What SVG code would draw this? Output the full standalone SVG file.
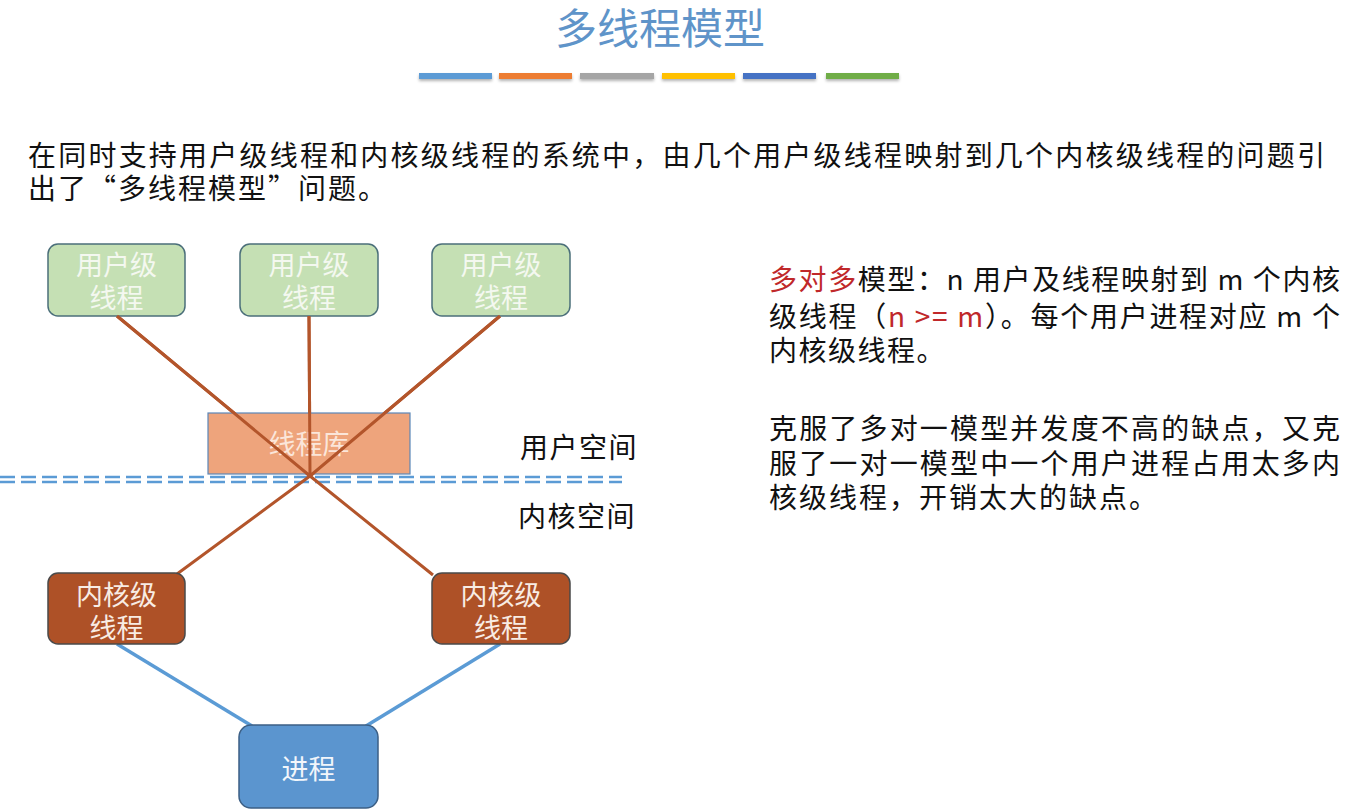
<svg xmlns="http://www.w3.org/2000/svg" width="1367" height="812" viewBox="0 0 1367 812">
<defs>
<style>
.t{font-family:"Noto Sans CJK SC","Liberation Sans",sans-serif;}
.body{font-size:28px;fill:#111;}
.red{fill:#c0282a;}
.lbl{font-size:27px;text-anchor:middle;}
.user rect{fill:#c5e0b4;stroke:#4b6f7a;stroke-width:1.5;}
.user text{fill:#f4f8f0;}
.kern rect{fill:#ae5127;stroke:#4a4a4a;stroke-width:1.5;}
.kern text{fill:#f8ece4;}
.brown{stroke:#b3552b;stroke-width:3;fill:none;}
.blue{stroke:#5b9bd5;stroke-width:3.5;fill:none;}
.dash{stroke:#5b9bd5;stroke-width:2.5;stroke-dasharray:15 6;fill:none;}
</style>
<filter id="sh" x="-10%" y="-50%" width="120%" height="300%"><feDropShadow dx="0" dy="2" stdDeviation="1.5" flood-color="#000" flood-opacity="0.3"/></filter>
</defs>
<rect width="1367" height="812" fill="#fff"/>

<!-- title -->
<g id="title">
<text class="t" x="660" y="44" font-size="42" text-anchor="middle" fill="#5f94c9">多线程模型</text>
<g filter="url(#sh)">
<rect x="419" y="73" width="73" height="6" fill="#5b9bd5"/>
<rect x="499" y="73" width="73" height="6" fill="#ed7d31"/>
<rect x="580" y="73" width="74" height="6" fill="#a5a5a5"/>
<rect x="662" y="73" width="73" height="6" fill="#ffc000"/>
<rect x="743" y="73" width="73" height="6" fill="#4472c4"/>
<rect x="826" y="73" width="73" height="6" fill="#70ad47"/>
</g>
</g>

<!-- intro -->
<g id="intro" class="t body">
<text x="28" y="166" textLength="1297" lengthAdjust="spacing">在同时支持用户级线程和内核级线程的系统中，由几个用户级线程映射到几个内核级线程的问题引</text>
<text x="28" y="199" letter-spacing="2">出了“多线程模型”问题。</text>
</g>

<!-- connectors -->
<g id="connectors">
<line class="dash" x1="0" y1="477" x2="622" y2="477"/>
<line class="dash" x1="0" y1="482" x2="622" y2="482"/>
<path class="brown" d="M117 316 L310 476 L433 575"/>
<path class="brown" d="M500 316 L310 476 L177 574"/>
<path class="brown" d="M309 316 L310 476"/>
<path class="blue" d="M117 644 L252 726"/>
<path class="blue" d="M500 644 L366 726"/>
</g>

<!-- user threads -->
<g id="user1" class="user t">
<rect x="48" y="244" width="137" height="72" rx="10"/>
<text class="lbl" x="116.5" y="275">用户级</text>
<text class="lbl" x="116.5" y="308">线程</text>
</g>
<g id="user2" class="user t">
<rect x="240" y="244" width="138" height="72" rx="10"/>
<text class="lbl" x="309" y="275">用户级</text>
<text class="lbl" x="309" y="308">线程</text>
</g>
<g id="user3" class="user t">
<rect x="432" y="244" width="138" height="72" rx="10"/>
<text class="lbl" x="501" y="275">用户级</text>
<text class="lbl" x="501" y="308">线程</text>
</g>

<!-- thread library -->
<g id="library" class="t">
<rect x="208" y="413" width="202" height="61" fill="#eea47c" stroke="#5b87b8" stroke-width="1.2"/>
<text class="lbl" x="309" y="454" fill="#fbe6da">线程库</text>
</g>
<g id="redraw">
<path class="brown" d="M117 316 L310 476 M500 316 L310 476 M309 316 L310 476"/>
</g>

<!-- space labels -->
<g id="spaces" class="t body">
<text x="520" y="458" letter-spacing="1.5">用户空间</text>
<text x="518" y="527" letter-spacing="1.5">内核空间</text>
</g>

<!-- kernel threads -->
<g id="kernel1" class="kern t">
<rect x="48" y="573" width="137" height="71" rx="10"/>
<text class="lbl" x="116.5" y="605">内核级</text>
<text class="lbl" x="116.5" y="638">线程</text>
</g>
<g id="kernel2" class="kern t">
<rect x="432" y="573" width="138" height="71" rx="10"/>
<text class="lbl" x="501" y="605">内核级</text>
<text class="lbl" x="501" y="638">线程</text>
</g>

<!-- process -->
<g id="process" class="t">
<rect x="239" y="725" width="139" height="83" rx="12" fill="#5b95cf" stroke="#3c5f85" stroke-width="1.5"/>
<text class="lbl" x="308.5" y="779" fill="#f2f6fb">进程</text>
</g>

<!-- description -->
<g id="desc" class="t body">
<text x="769" y="290" textLength="571" lengthAdjust="spacing"><tspan class="red">多对多</tspan>模型：n 用户及线程映射到 m 个内核</text>
<text x="769" y="327" textLength="571" lengthAdjust="spacing">级线程（<tspan class="red">n &gt;= m</tspan>）。每个用户进程对应 m 个</text>
<text x="769" y="361" letter-spacing="1.5">内核级线程。</text>
<text x="769" y="439" textLength="571" lengthAdjust="spacing">克服了多对一模型并发度不高的缺点，又克</text>
<text x="769" y="474" textLength="571" lengthAdjust="spacing">服了一对一模型中一个用户进程占用太多内</text>
<text x="769" y="508" letter-spacing="2">核级线程，开销太大的缺点。</text>
</g>
</svg>
